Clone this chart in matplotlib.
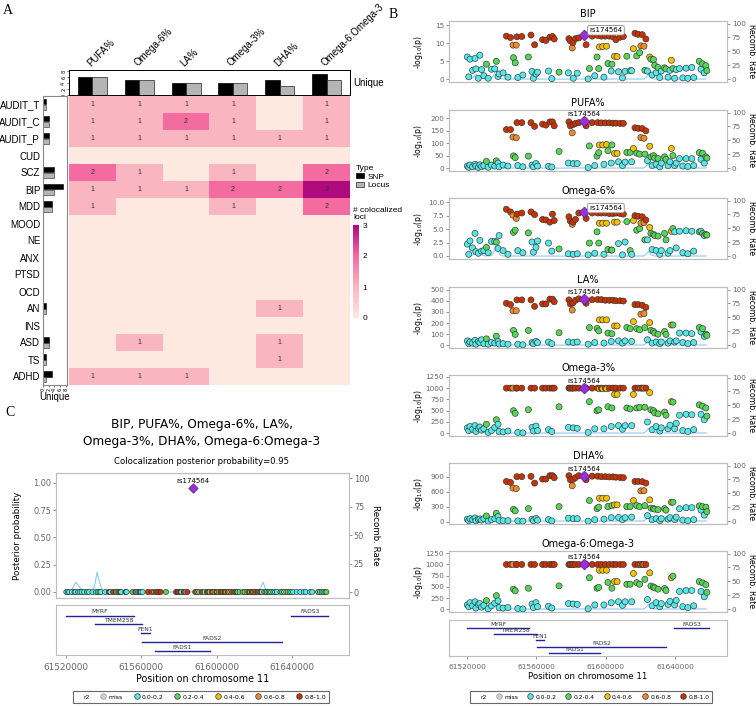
import numpy as np
import matplotlib
matplotlib.use('Agg')
from matplotlib import pyplot as plt
from matplotlib.colors import LinearSegmentedColormap, Normalize
from matplotlib.cm import ScalarMappable
from matplotlib.lines import Line2D
from matplotlib.patches import Patch

W, H = 756, 707
ARIAL = 'Liberation Sans'
SERIF = 'Liberation Serif'

# ---------------- panel A data ----------------
traits = ['PUFA%', 'Omega-6%', 'LA%', 'Omega-3%', 'DHA%', 'Omega-6:Omega-3']
disorders = ['AUDIT_T', 'AUDIT_C', 'AUDIT_P', 'CUD', 'SCZ', 'BIP', 'MDD', 'MOOD', 'NE',
             'ANX', 'PTSD', 'OCD', 'AN', 'INS', 'ASD', 'TS', 'ADHD']
coloc_loci = [
    [1, 1, 1, 1, 0, 1],  # AUDIT_T
    [1, 1, 2, 1, 0, 1],  # AUDIT_C
    [1, 1, 1, 1, 1, 1],  # AUDIT_P
    [0, 0, 0, 0, 0, 0],  # CUD
    [2, 1, 0, 1, 0, 2],  # SCZ
    [1, 1, 1, 2, 2, 3],  # BIP
    [1, 0, 0, 1, 0, 2],  # MDD
    [0, 0, 0, 0, 0, 0],  # MOOD
    [0, 0, 0, 0, 0, 0],  # NE
    [0, 0, 0, 0, 0, 0],  # ANX
    [0, 0, 0, 0, 0, 0],  # PTSD
    [0, 0, 0, 0, 0, 0],  # OCD
    [0, 0, 0, 0, 1, 0],  # AN
    [0, 0, 0, 0, 0, 0],  # INS
    [0, 1, 0, 0, 1, 0],  # ASD
    [0, 0, 0, 0, 1, 0],  # TS
    [1, 1, 1, 0, 0, 0],  # ADHD
]
trait_unique_snp = [6, 5, 4, 4, 5, 7]
trait_unique_locus = [6, 5, 4, 4, 3, 5]
disorder_unique_snp = [1, 2, 2, 0, 4, 7, 3, 0, 0, 0, 0, 0, 1, 0, 2, 1, 3]
disorder_unique_locus = [1, 2, 2, 0, 4, 4, 3, 0, 0, 0, 0, 0, 1, 0, 2, 1, 1]

# ---------------- panel B / C data ----------------
# r2 class: 1=0.0-0.2, 2=0.2-0.4, 3=0.4-0.6, 4=0.6-0.8, 5=0.8-1.0
snp_pos_kb = [61520.2, 61521.0, 61521.7, 61523.2, 61524.6, 61525.1, 61526.5, 61527.4, 61528.4, 61529.7,
              61531.2, 61532.2, 61534.1, 61536.0, 61536.9, 61537.9, 61538.5, 61540.8, 61542.7, 61543.6,
              61545.1, 61546.5, 61546.8, 61547.8, 61548.4, 61548.8, 61549.3, 61551.6, 61552.2, 61555.4,
              61556.9, 61557.5, 61558.3, 61559.0, 61559.8, 61560.7, 61563.6, 61565.5, 61567.0, 61567.8,
              61568.9, 61569.3, 61570.3, 61573.1, 61578.5, 61578.8, 61579.6, 61580.7, 61581.1, 61581.3,
              61582.6, 61583.6, 61584.5, 61588.7, 61589.9, 61590.6, 61592.2, 61593.7, 61595.0, 61595.4,
              61596.0, 61596.4, 61597.5, 61598.3, 61599.0, 61599.8, 61600.5, 61601.3, 61602.1, 61603.2,
              61603.6, 61604.2, 61605.1, 61605.9, 61606.6, 61607.4, 61608.3, 61609.7, 61610.2, 61611.2,
              61612.2, 61614.1, 61615.0, 61616.0, 61616.9, 61617.9, 61618.8, 61619.6, 61620.3, 61621.1,
              61622.1, 61622.6, 61623.2, 61624.1, 61625.4, 61626.1, 61626.8, 61627.6, 61628.3, 61629.1,
              61630.2, 61631.2, 61632.1, 61634.0, 61634.8, 61636.0, 61637.1, 61637.9, 61638.8, 61639.8,
              61640.7, 61642.6, 61644.5, 61646.4, 61647.4, 61649.7, 61650.8, 61654.0, 61655.0, 61655.9,
              61656.9, 61657.8, 61658.4]
snp_r2 = [1, 1, 1, 1, 1, 1, 1, 1, 1, 1,
          2, 1, 1, 1, 2, 1, 1, 1, 5, 1,
          5, 4, 2, 2, 4, 5, 1, 5, 1, 2,
          5, 1, 1, 5, 1, 1, 5, 5, 1, 5,
          1, 5, 5, 2, 1, 5, 5, 4, 5, 1,
          5, 1, 5, 5, 1, 2, 5, 1, 2, 5,
          2, 3, 5, 3, 1, 5, 3, 2, 5, 1,
          2, 5, 3, 5, 3, 1, 5, 1, 5, 1,
          2, 2, 1, 3, 5, 2, 5, 2, 4, 5,
          4, 2, 5, 1, 3, 2, 1, 2, 2, 1,
          2, 1, 1, 2, 2, 1, 1, 3, 2, 1,
          1, 1, 1, 1, 1, 1, 1, 2, 1, 2,
          1, 2, 2]
logp_bip = [6.2, 0.7, 5.6, 2.5, 5.8, 2.9, 0.3, 6.7, 2.7, 1.0,
            4.2, 0.3, 2.8, 2.9, 5.0, 0.8, 1.5, 1.8, 12.0, 0.6,
            11.6, 9.5, 6.0, 4.6, 9.5, 11.8, 0.5, 11.9, 1.2, 6.2,
            12.3, 2.2, 0.3, 9.6, 1.5, 2.0, 11.0, 10.8, 2.3, 11.7,
            0.2, 11.9, 11.2, 2.0, 1.8, 11.3, 10.7, 8.7, 10.2, 0.3,
            11.3, 1.7, 11.5, 9.6, 0.1, 3.0, 12.0, 1.0, 6.2, 12.2,
            3.0, 9.0, 12.0, 9.1, 0.6, 12.0, 9.2, 4.4, 12.0, 2.3,
            4.2, 11.8, 6.4, 11.0, 6.3, 2.1, 11.7, 0.4, 11.9, 2.2,
            6.4, 2.4, 2.4, 8.5, 12.8, 6.5, 12.5, 7.4, 9.3, 12.4,
            9.2, 2.5, 11.2, 2.3, 6.2, 5.6, 1.2, 5.5, 3.9, 1.8,
            3.3, 0.5, 2.3, 3.2, 2.9, 0.6, 2.5, 5.3, 3.0, 0.3,
            2.7, 3.0, 0.4, 3.1, 0.3, 3.3, 0.5, 5.0, 2.8, 4.3,
            1.8, 3.8, 2.4]
logp_pufa = [8, 3, 12, 5, 15, 8, 2, 13, 6, 10,
             27, 3, 12, 8, 29, 20, 5, 12, 155, 8,
             155, 125, 49, 42, 122, 183, 10, 183, 5, 48,
             183, 12, 5, 168, 18, 8, 177, 173, 7, 186,
             4, 186, 170, 67, 20, 186, 170, 142, 175, 18,
             180, 18, 183, 170, 2, 89, 183, 10, 48, 183,
             62, 93, 182, 93, 15, 182, 95, 70, 182, 20,
             93, 181, 59, 181, 59, 25, 180, 10, 180, 24,
             63, 63, 25, 79, 162, 60, 160, 56, 123, 159,
             120, 56, 150, 30, 88, 45, 10, 50, 40, 15,
             38, 5, 20, 45, 35, 10, 25, 79, 50, 10,
             20, 38, 8, 38, 6, 38, 10, 62, 35, 60,
             20, 45, 40]
logp_omega6 = [2.2, 0.3, 2.8, 1.5, 4.2, 0.8, 0.5, 2.9, 0.9, 1.0,
               1.6, 0.6, 2.7, 2.7, 2.6, 1.4, 3.8, 1.0, 8.7, 0.3,
               8.2, 7.6, 4.4, 4.8, 7.0, 7.8, 1.0, 8.0, 0.6, 4.3,
               8.2, 2.6, 0.7, 7.7, 1.6, 2.8, 6.8, 6.7, 2.4, 6.3,
               0.9, 7.8, 6.6, 1.3, 0.4, 7.3, 6.5, 5.9, 6.3, 0.3,
               6.8, 0.4, 8.0, 7.0, 0.2, 2.4, 8.0, 0.5, 4.5, 8.0,
               2.4, 6.1, 8.0, 6.1, 0.3, 8.0, 6.1, 1.2, 7.9, 1.1,
               1.1, 7.9, 6.3, 8.0, 6.3, 2.3, 7.9, 0.2, 7.8, 2.6,
               6.4, 1.0, 0.3, 6.6, 7.5, 4.8, 7.4, 5.1, 6.1, 7.3,
               6.2, 3.0, 6.7, 3.0, 5.3, 4.2, 1.2, 4.0, 3.8, 1.0,
               3.7, 0.3, 1.0, 4.2, 3.0, 0.5, 1.0, 4.6, 5.1, 4.5,
               1.5, 4.6, 0.6, 4.7, 0.4, 4.6, 0.9, 4.5, 4.6, 4.2,
               3.8, 4.0, 3.9]
logp_la = [40, 15, 30, 20, 45, 10, 35, 25, 50, 15,
           58, 10, 25, 20, 82, 35, 12, 15, 378, 10,
           366, 311, 134, 98, 311, 408, 10, 408, 5, 134,
           408, 25, 15, 350, 35, 25, 372, 372, 30, 415,
           15, 415, 392, 113, 30, 408, 372, 317, 380, 25,
           405, 30, 418, 378, 10, 159, 410, 25, 152, 412,
           130, 229, 410, 229, 20, 405, 229, 110, 405, 35,
           104, 405, 174, 400, 174, 40, 400, 20, 398, 40,
           160, 150, 35, 213, 366, 150, 366, 140, 280, 360,
           285, 159, 341, 50, 204, 135, 20, 125, 110, 30,
           100, 15, 30, 125, 98, 20, 40, 183, 183, 30,
           40, 110, 25, 110, 15, 105, 25, 160, 120, 150,
           80, 100, 90]
logp_omega3 = [120, 60, 150, 90, 170, 40, 110, 140, 70, 100,
               200, 20, 60, 130, 300, 200, 40, 30, 1000, 50,
               1000, 1000, 500, 442, 1000, 1000, 20, 1000, 10, 522,
               1000, 130, 50, 1000, 160, 60, 1000, 1000, 80, 1000,
               40, 1000, 1000, 587, 130, 1000, 1000, 1000, 1000, 120,
               1000, 110, 1000, 1000, 20, 700, 1000, 100, 500, 1000,
               520, 985, 1000, 985, 100, 1000, 985, 587, 1000, 150,
               560, 1000, 860, 1000, 860, 170, 1000, 90, 1000, 170,
               560, 540, 170, 860, 1000, 560, 1000, 575, 1000, 1000,
               1000, 575, 1000, 250, 900, 520, 80, 500, 450, 150,
               430, 50, 120, 470, 400, 100, 180, 700, 690, 100,
               220, 400, 60, 420, 40, 410, 80, 630, 420, 600,
               300, 560, 380]
logp_dha = [50, 20, 60, 40, 75, 15, 45, 55, 30, 60,
            114, 10, 40, 60, 168, 100, 25, 20, 805, 20,
            785, 671, 248, 215, 660, 900, 15, 900, 10, 262,
            906, 50, 20, 772, 65, 30, 852, 852, 40, 920,
            15, 920, 880, 302, 70, 920, 839, 718, 845, 60,
            880, 60, 920, 839, 10, 423, 910, 40, 262, 910,
            290, 470, 900, 470, 50, 900, 470, 302, 895, 80,
            320, 895, 336, 890, 336, 85, 885, 40, 880, 80,
            302, 300, 90, 423, 805, 322, 805, 300, 617, 800,
            620, 320, 772, 120, 436, 270, 40, 260, 250, 60,
            240, 20, 60, 260, 230, 50, 80, 389, 389, 40,
            90, 260, 30, 280, 20, 280, 40, 315, 230, 300,
            130, 290, 200]
logp_ratio = [100, 60, 150, 80, 170, 30, 110, 130, 50, 90,
              196, 15, 80, 140, 305, 190, 40, 30, 1000, 40,
              1000, 1000, 450, 414, 1000, 1000, 20, 1000, 10, 472,
              1000, 120, 40, 1000, 150, 60, 1000, 1000, 70, 1000,
              30, 1000, 1000, 523, 130, 1000, 1000, 1000, 1000, 120,
              1000, 110, 1000, 1000, 15, 705, 1000, 100, 472, 1000,
              490, 872, 1000, 872, 100, 1000, 872, 600, 1000, 150,
              472, 1000, 618, 1000, 618, 170, 1000, 90, 1000, 170,
              560, 560, 170, 800, 1000, 596, 1000, 560, 1000, 1000,
              1000, 669, 1000, 220, 814, 520, 80, 500, 480, 150,
              450, 60, 130, 465, 420, 110, 180, 705, 741, 100,
              200, 400, 60, 420, 40, 420, 80, 620, 400, 590,
              280, 550, 380]

lead_snp = 'rs174564'
lead_pos_kb = 61587.4
lead_logp = [12.4, 189, 8.1, 418, 1000, 920, 1000]
lead_pp = 0.95

recomb_pos_kb = [61521.0, 61523.0, 61525.3, 61527.5, 61530.0, 61534.0, 61535.5, 61536.5, 61537.8,
                 61539.5, 61542.0, 61560.0, 61575.0, 61590.0, 61610.0, 61622.0, 61623.5, 61624.8,
                 61626.0, 61628.0, 61640.0, 61658.0]
recomb_rate = [0.5, 2.0, 8.8, 4.0, 0.6, 0.8, 8.0, 17.5, 9.0,
               1.0, 0.4, 0.3, 0.2, 0.5, 0.3, 0.4, 4.0, 8.8,
               3.0, 0.5, 0.3, 0.4]

gene_names = ['MYRF', 'TMEM258', 'FEN1', 'FADS2', 'FADS1', 'FADS3']
gene_start_kb = [61520.1, 61535.6, 61560.0, 61560.4, 61567.1, 61639.6]
gene_end_kb = [61556.0, 61560.3, 61564.7, 61634.8, 61596.8, 61659.4]
gene_row = [1, 2, 3, 4, 5, 1]

b_titles = ['BIP', 'PUFA%', 'Omega-6%', 'LA%', 'Omega-3%', 'DHA%', 'Omega-6:Omega-3']
c_title = 'BIP, PUFA%, Omega-6%, LA%,\nOmega-3%, DHA%, Omega-6:Omega-3'
c_subtitle = 'Colocalization posterior probability=0.95'

r2_labels = ['miss', '0.0-0.2', '0.2-0.4', '0.4-0.6', '0.6-0.8', '0.8-1.0']
r2_colors = ['#d0d0d0', '#55e8e8', '#55d655', '#f2c200', '#f28a2a', '#c83200']
heat_colors = ['#fde9df', '#f9b5c0', '#f46ba0', '#ae0a7e']


def px_axes(fig, x0, y0, x1, y1):
    return fig.add_axes([x0 / W, 1 - y1 / H, (x1 - x0) / W, (y1 - y0) / H])


def style_gray(ax):
    for s in ax.spines.values():
        s.set_color('#bdbdbd')
        s.set_linewidth(0.8)


def locus_axes(fig, box, values, lead_val, xlim, s, fs_tick, fs_lab, ylabel):
    ax = px_axes(fig, *box)
    ax2 = ax.twinx()
    ax2.plot(np.array(recomb_pos_kb) * 1000, recomb_rate, color='#8ccaf7', lw=0.8)
    ax2.set_ylim(-5, 104.5)
    ax2.set_yticks([0, 25, 50, 75, 100])
    ax2.tick_params(labelsize=fs_tick, colors='#666666', length=2, width=0.5, pad=1.5)
    ax2.set_ylabel('Recomb. Rate', rotation=270, fontsize=fs_lab)
    ax.set_zorder(ax2.get_zorder() + 1)
    ax.patch.set_visible(False)

    cols = [r2_colors[c] for c in snp_r2]
    ax.scatter(np.array(snp_pos_kb) * 1000, values, s=s, c=cols,
               edgecolors='#333333', linewidths=0.45, zorder=3)
    ax.scatter([lead_pos_kb * 1000], [lead_val], s=s * 1.6, marker='D', c='#9b2fd6',
               edgecolors='#5a1a80', linewidths=0.5, zorder=4)
    ax.set_xlim(*xlim)
    ax.set_xticks([])
    ax.tick_params(axis='y', labelsize=fs_tick, colors='#666666', length=2, width=0.5, pad=1.5)
    ax.set_ylabel(ylabel, fontsize=fs_lab)
    style_gray(ax)
    style_gray(ax2)
    return ax, ax2


def gene_track(fig, box, xlim, fs_gene, fs_tick, fs_lab):
    ax = px_axes(fig, *box)
    for name, s0, e0, row in zip(gene_names, gene_start_kb, gene_end_kb, gene_row):
        ax.plot([s0 * 1000, e0 * 1000], [row, row], color='#22229c', lw=1.0)
        ax.text((s0 + e0) / 2 * 1000, row - 0.12, name, fontsize=fs_gene, ha='center',
                va='bottom', color='#333333')
    ax.set_xlim(*xlim)
    ax.set_ylim(5.5, -0.2)
    ax.set_yticks([])
    ax.set_xticks([61520000, 61560000, 61600000, 61640000])
    ax.ticklabel_format(axis='x', style='plain', useOffset=False)
    ax.tick_params(axis='x', labelsize=fs_tick, colors='#666666', length=2, width=0.5)
    ax.set_xlabel('Position on chromosome 11', fontsize=fs_lab, labelpad=2)
    style_gray(ax)
    return ax


def r2_legend(fig, cx, cy, fs, spacing):
    handles = [Line2D([], [], ls='none')]
    labels = ['r2']
    for lab, col in zip(r2_labels, r2_colors):
        ec = '#999999' if lab == 'miss' else '#333333'
        handles.append(Line2D([], [], ls='none', marker='o', markersize=4,
                              markerfacecolor=col, markeredgecolor=ec, markeredgewidth=0.5))
        labels.append(lab)
    leg = fig.legend(handles, labels, loc='center', bbox_to_anchor=(cx / W, 1 - cy / H),
                     ncol=7, fontsize=fs, frameon=True, fancybox=False, edgecolor='#444444',
                     handlelength=0.8, handletextpad=0.5, columnspacing=spacing, borderpad=0.5)
    leg.get_frame().set_linewidth(0.8)
    return leg


fig = plt.figure(figsize=(W / 100, H / 100), dpi=100)

# ================= panel A =================
cmap = LinearSegmentedColormap.from_list('coloc', heat_colors)
counts = np.array(coloc_loci)
n_row, n_col = counts.shape

ax_heat = px_axes(fig, 69, 96, 350, 385)
ax_heat.pcolormesh(np.arange(n_col + 1) - 0.5, np.arange(n_row + 1) - 0.5, counts,
                   cmap=cmap, vmin=0, vmax=3)
for i in range(n_row):
    for j in range(n_col):
        if counts[i, j] > 0:
            ax_heat.text(j, i, str(counts[i, j]), ha='center', va='center', fontsize=5,
                         color='#333333', fontfamily=ARIAL)
ax_heat.set_xlim(-0.5, n_col - 0.5)
ax_heat.set_ylim(n_row - 0.5, -0.5)
ax_heat.axis('off')

ax_top = px_axes(fig, 69, 70, 350, 95)
xc = np.arange(n_col)
ax_top.bar(xc - 0.155, trait_unique_snp, width=0.31, color='black', edgecolor='black', lw=0.5)
ax_top.bar(xc + 0.155, trait_unique_locus, width=0.31, color='#b5b5b5', edgecolor='#222222', lw=0.5)
ax_top.set_xlim(-0.5, n_col - 0.5)
ax_top.set_ylim(0, 8.4)
ax_top.set_xticks([])
ax_top.set_yticks([0, 2, 4, 6, 8])
ax_top.set_yticklabels(['0', '2', '4', '6', '8'], rotation=90, fontsize=3.5, va='center')
ax_top.tick_params(axis='y', length=1.5, width=0.4, pad=0.5)
for s in ax_top.spines.values():
    s.set_linewidth(0.7)
for j, name in enumerate(traits):
    fig.text((69 + (j + 0.5) * 281 / n_col) / W, 1 - 68 / H, name, rotation=45,
             rotation_mode='anchor', ha='left', va='bottom', fontsize=7, fontfamily=ARIAL)
fig.text(353 / W, 1 - 83 / H, 'Unique', fontsize=7, va='center', fontfamily=ARIAL)

ax_left = px_axes(fig, 43, 96, 67, 385)
yr = np.arange(n_row)
ax_left.barh(yr - 0.16, disorder_unique_snp, height=0.32, color='black', edgecolor='black', lw=0.4)
ax_left.barh(yr + 0.16, disorder_unique_locus, height=0.32, color='#b5b5b5', edgecolor='#222222', lw=0.4)
ax_left.set_ylim(n_row - 0.5, -0.5)
ax_left.set_xlim(0, 8.4)
ax_left.set_yticks(yr)
ax_left.set_yticklabels(disorders, fontsize=7, fontfamily=ARIAL)
ax_left.tick_params(axis='y', length=0, pad=2)
ax_left.set_xticks([0, 2, 4, 6, 8])
ax_left.set_xticklabels(['0', '2', '4', '6', '8'], rotation=90, fontsize=3.5)
ax_left.tick_params(axis='x', length=1.5, width=0.4, pad=0.5)
ax_left.set_xlabel('Unique', fontsize=7, fontfamily=ARIAL, labelpad=1)
for s in ax_left.spines.values():
    s.set_color('#888888')
    s.set_linewidth(0.8)

fig.legend([Patch(fc='black', ec='black', lw=0.5), Patch(fc='#b5b5b5', ec='#222222', lw=0.5)],
           ['SNP', 'Locus'], title='Type', loc='upper left', alignment='left',
           bbox_to_anchor=(349 / W, 1 - 158 / H), frameon=False,
           prop={'family': ARIAL, 'size': 6}, title_fontproperties={'family': ARIAL, 'size': 6},
           handlelength=1.0, handleheight=0.45, handletextpad=0.4, labelspacing=0.2, borderpad=0.3)

fig.text(353 / W, 1 - 214 / H, '# colocalized\nloci', fontsize=6, va='center',
         fontfamily=ARIAL, linespacing=1.0)
cax = px_axes(fig, 353, 225, 359, 318)
cb = fig.colorbar(ScalarMappable(norm=Normalize(0, 3), cmap=cmap), cax=cax)
cb.outline.set_visible(False)
cb.set_ticks([0, 1, 2, 3])
cax.tick_params(labelsize=6, length=1.5, color='white', width=0.6, pad=1)
for lab in cax.get_yticklabels():
    lab.set_fontfamily(ARIAL)

fig.text(3 / W, 1 - 10 / H, 'A', fontsize=10, fontfamily=SERIF, va='center')

# ================= panel B =================
fig.text(389 / W, 1 - 15 / H, 'B', fontsize=10, fontfamily=SERIF, va='center')
b_xlim = (61509600, 61670000)
b_tops = [21, 110, 198, 287, 375, 463, 551]
b_values = [logp_bip, logp_pufa, logp_omega6, logp_la, logp_omega3, logp_dha, logp_ratio]
b_ylims = [(-0.74, 16.2), (-12, 234), (-0.57, 10.8), (-24, 524), (-60, 1290), (-47, 1174), (-58, 1300)]
b_yticks = [[0, 5, 10, 15], [0, 50, 100, 150, 200], [0, 2.5, 5, 7.5, 10],
            [0, 100, 200, 300, 400, 500], [0, 250, 500, 750, 1000, 1250],
            [0, 300, 600, 900], [0, 250, 500, 750, 1000, 1250]]
b_boxed = [True, False, True, False, False, False, False]

for k in range(7):
    top = b_tops[k]
    ax, ax2 = locus_axes(fig, (449, top, 727, top + 61), b_values[k], lead_logp[k], b_xlim,
                         19, 5.2, 5.6, '-log$_{10}$(p)')
    ax.set_ylim(*b_ylims[k])
    ax.set_yticks(b_yticks[k])
    if k == 2:
        ax.yaxis.set_major_formatter(matplotlib.ticker.FormatStrFormatter('%.1f'))
    ax.yaxis.set_label_coords(-0.088, 0.5)
    ax2.yaxis.set_label_coords(1.105, 0.5)
    ax.set_title(b_titles[k], fontsize=7, pad=3)
    if b_boxed[k]:
        ax.annotate(lead_snp, xy=(lead_pos_kb * 1000, lead_logp[k]), xytext=(4, 1),
                    textcoords='offset points', ha='left', va='bottom', fontsize=5, zorder=6,
                    bbox=dict(boxstyle='round,pad=0.25', fc='white', ec='#888888', lw=0.6))
    else:
        ax.annotate(lead_snp, xy=(lead_pos_kb * 1000, lead_logp[k]), xytext=(0, 3),
                    textcoords='offset points', ha='center', va='bottom', fontsize=5, zorder=6)

gene_track(fig, (449, 620, 727, 656), b_xlim, 4.2, 5.4, 6.2)
r2_legend(fig, 591, 697, 4.3, 1.6)

# ================= panel C =================
fig.text(5 / W, 1 - 412 / H, 'C', fontsize=10, fontfamily=SERIF, va='center')
c_xlim = (61514700, 61670400)
fig.text(202 / W, 1 - 433 / H, c_title, fontsize=8.7, ha='center', va='center', linespacing=1.35)
fig.text(202 / W, 1 - 461 / H, c_subtitle, fontsize=6.1, ha='center', va='center')
axc, axc2 = locus_axes(fig, (56, 473, 349, 598), np.zeros(len(snp_pos_kb)), lead_pp, c_xlim,
                       14, 5.9, 6.3, 'Posterior probability')
axc.set_ylim(-0.055, 1.09)
axc.set_yticks([0, 0.25, 0.5, 0.75, 1.0])
axc.yaxis.set_major_formatter(matplotlib.ticker.FormatStrFormatter('%.2f'))
axc.yaxis.set_label_coords(-0.116, 0.5)
axc2.yaxis.set_label_coords(1.105, 0.5)
axc.annotate(lead_snp, xy=(lead_pos_kb * 1000, lead_pp), xytext=(0, 3),
             textcoords='offset points', ha='center', va='bottom', fontsize=5)

gene_track(fig, (56, 605, 349, 655), c_xlim, 4.3, 6.4, 6.9)
r2_legend(fig, 201, 697, 4.4, 1.8)

fig.savefig('out.png', dpi=100)
